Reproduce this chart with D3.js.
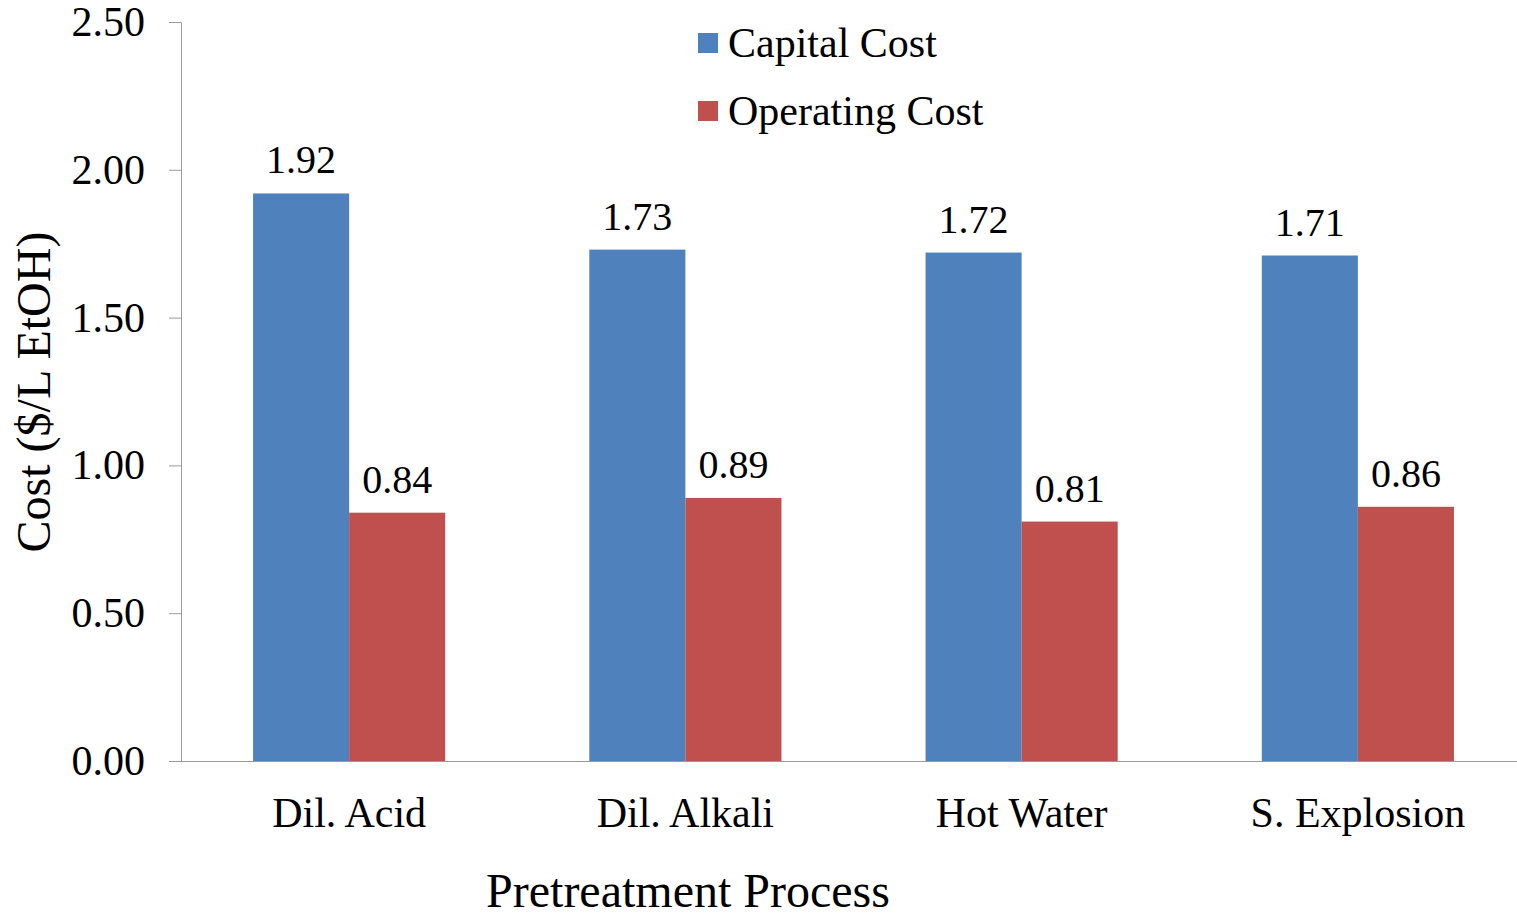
<!DOCTYPE html>
<html>
<head>
<meta charset="utf-8">
<script src="https://cdn.jsdelivr.net/npm/d3@7"></script>
<style>
    body { margin: 0; background: #fff; }
    svg { display: block; font-family: 'Liberation Serif', 'Times New Roman', serif; }
</style>
</head>
<body>
<div id="chart"></div>
<script>
// Data
const categories = ["Dil. Acid", "Dil. Alkali", "Hot Water", "S. Explosion"]
const seriesNames = ["Capital Cost", "Operating Cost"]
const capitalCost = [1.92, 1.73, 1.72, 1.71]
const operatingCost = [0.84, 0.89, 0.81, 0.86]
const yTicks = [0, 0.5, 1.0, 1.5, 2.0, 2.5]
const colors = ["#4F81BD", "#C0504D"]

// Constants
const width = 1517
const height = 919
// plot area runs a little past the right edge of the picture, as in the original
const margin = { top: 22, right: -9, bottom: 158, left: 181 }
const graphWidth = width - margin.left - margin.right
const graphHeight = height - margin.top - margin.bottom

const svg = d3.select("#chart")
    .append("svg")
    .attr("width", width)
    .attr("height", height)

const elementGroup = svg.append("g")
    .attr("transform", `translate(${margin.left}, ${margin.top})`)

// Scales
const x0 = d3.scaleBand()
    .domain(categories)
    .range([0, graphWidth])
    .padding(0)

const x1 = d3.scaleBand()
    .domain(seriesNames)
    .range([0, x0.bandwidth()])
    .paddingInner(0)
    .paddingOuter(0.75)

const y = d3.scaleLinear()
    .domain([0, 2.5])
    .range([graphHeight, 0])

const color = d3.scaleOrdinal().domain(seriesNames).range(colors)

// Y axis
const yAxisGroup = elementGroup.append("g")
    .call(d3.axisLeft(y)
        .tickValues(yTicks)
        .tickFormat(d3.format(".2f"))
        .tickSizeInner(12)
        .tickSizeOuter(0)
        .tickPadding(24))
yAxisGroup.select(".domain").style("stroke", "#9a9a9a")
yAxisGroup.selectAll("line").style("stroke", "#9a9a9a")
yAxisGroup.selectAll("text")
    .style("font-size", "42px")
    .style("font-family", "'Liberation Serif', serif")
    .style("fill", "#000")

// Bars
const rows = categories.map((c, i) => ({
    category: c,
    values: [
        { key: seriesNames[0], value: capitalCost[i] },
        { key: seriesNames[1], value: operatingCost[i] }
    ]
}))

const groups = elementGroup.selectAll(".group")
    .data(rows)
    .enter()
    .append("g")
    .attr("class", "group")
    .attr("transform", d => `translate(${x0(d.category)}, 0)`)

groups.selectAll("rect")
    .data(d => d.values)
    .enter()
    .append("rect")
    .attr("x", d => x1(d.key))
    .attr("y", d => y(d.value))
    .attr("width", x1.bandwidth())
    .attr("height", d => graphHeight - y(d.value))
    .attr("fill", d => color(d.key))

groups.selectAll(".label")
    .data(d => d.values)
    .enter()
    .append("text")
    .attr("class", "label")
    .attr("x", d => x1(d.key) + x1.bandwidth() / 2)
    .attr("y", d => y(d.value) - 20)
    .attr("text-anchor", "middle")
    .style("font-size", "40px")
    .style("fill", "#000")
    .text(d => d3.format(".2f")(d.value))

// X axis
const xAxisGroup = elementGroup.append("g")
    .attr("transform", `translate(0, ${graphHeight})`)
    .call(d3.axisBottom(x0).tickSize(0).tickPadding(36))
xAxisGroup.select(".domain")
    .attr("d", `M-12,0.5H${graphWidth}`)
    .style("stroke", "#9a9a9a")
xAxisGroup.selectAll("text")
    .style("font-size", "42px")
    .style("font-family", "'Liberation Serif', serif")
    .style("fill", "#000")

// Axis titles
svg.append("text")
    .attr("transform", "rotate(-90)")
    .attr("x", -392)
    .attr("y", 50)
    .attr("text-anchor", "middle")
    .style("font-size", "48px")
    .text("Cost ($/L EtOH)")

svg.append("text")
    .attr("x", 688)
    .attr("y", 907)
    .attr("text-anchor", "middle")
    .style("font-size", "48px")
    .text("Pretreatment Process")

// Legend
const legend = svg.append("g")
    .attr("transform", "translate(698, 0)")

const legendItems = legend.selectAll(".legend-item")
    .data(seriesNames)
    .enter()
    .append("g")
    .attr("class", "legend-item")
    .attr("transform", (d, i) => `translate(0, ${33 + i * 68})`)

legendItems.append("rect")
    .attr("width", 20)
    .attr("height", 20)
    .attr("fill", d => color(d))

legendItems.append("text")
    .attr("x", 30)
    .attr("y", 24)
    .style("font-size", "42px")
    .text(d => d)
</script>
</body>
</html>
